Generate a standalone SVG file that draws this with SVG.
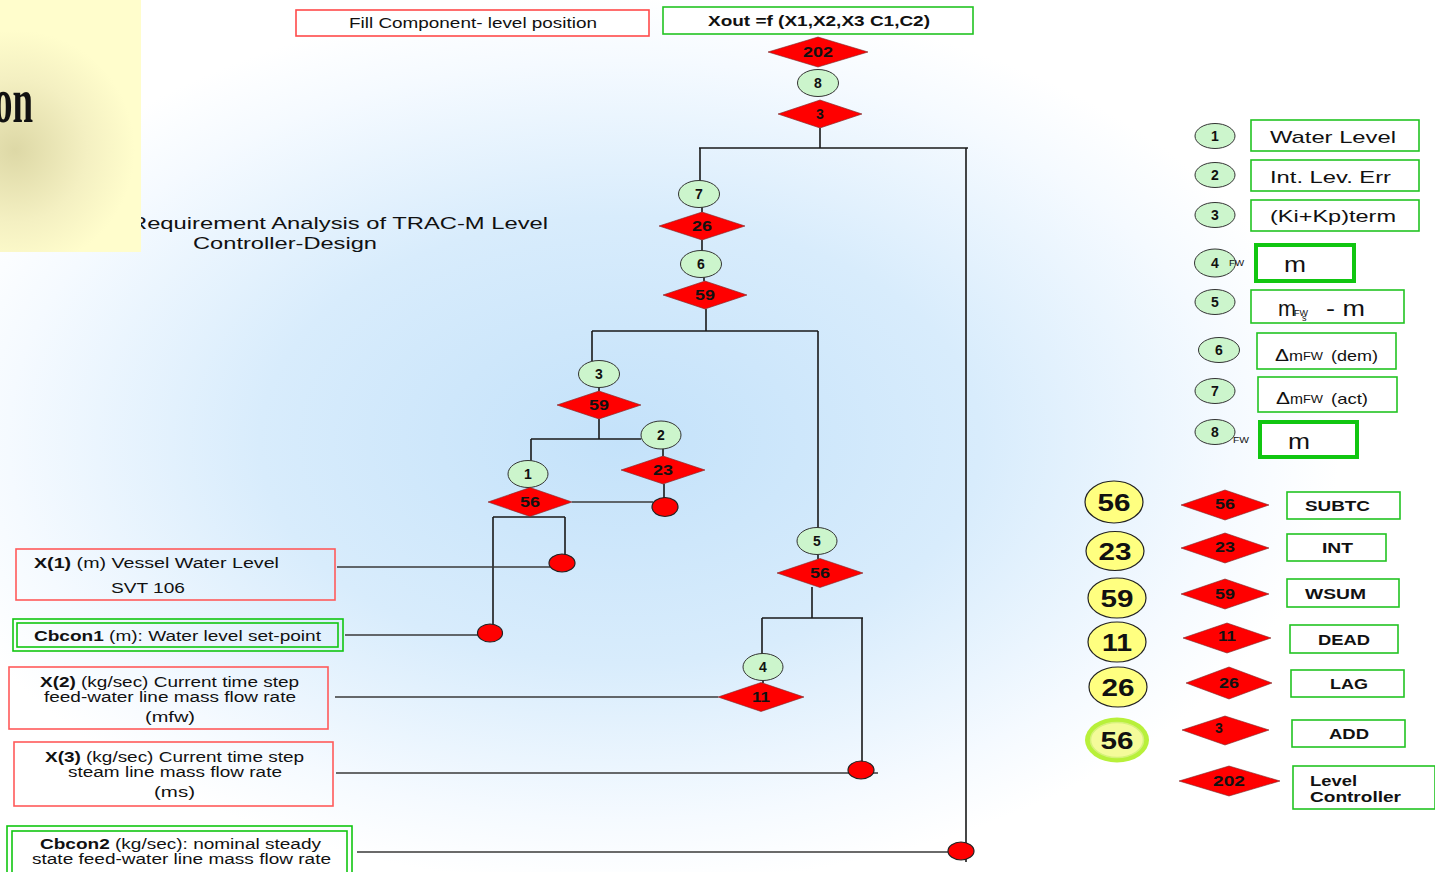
<svg xmlns="http://www.w3.org/2000/svg" width="1435" height="872" viewBox="0 0 1435 872">
  <defs>
    <radialGradient id="bg" gradientUnits="userSpaceOnUse" cx="620" cy="440" r="720" gradientTransform="translate(620,440) scale(1,0.62) translate(-620,-440)">
      <stop offset="0" stop-color="#c4e2fa"/>
      <stop offset="0.5" stop-color="#d8ecfc"/>
      <stop offset="0.85" stop-color="#f5faff"/>
      <stop offset="1" stop-color="#ffffff"/>
    </radialGradient>
    <radialGradient id="panel" gradientUnits="userSpaceOnUse" cx="15" cy="150" r="120">
      <stop offset="0" stop-color="#ddd8a6"/>
      <stop offset="0.6" stop-color="#f4f0c2"/>
      <stop offset="1" stop-color="#fffdcc"/>
    </radialGradient>
    <style>
      text { font-family: "Liberation Sans", Arial, sans-serif; fill: #111; }
      .conn { stroke: #1a1a1a; stroke-width: 1.6; fill: none; }
      .feed { stroke: #3a3a3a; stroke-width: 1.3; fill: none; }
      .circ { fill: #ccf5cc; stroke: #333; stroke-width: 1; }
      .dia { fill: #ff0000; stroke: #7a2a2a; stroke-width: 0.6; }
      .dot { fill: #ff0000; stroke: #222; stroke-width: 1.2; }
      .yel { fill: #ffff80; stroke: #222; stroke-width: 1.2; }
      .rbox { fill: none; stroke: #ff5a5a; stroke-width: 1.6; }
      .gbox { fill: #ffffff; stroke: #22c422; stroke-width: 1.6; }
      .gthick { fill: #ffffff; stroke: #11c611; stroke-width: 4; }
      .gdbl { fill: none; stroke: #11c611; stroke-width: 1.6; }
      .cn { font-weight: bold; font-size: 14px; text-anchor: middle; }
      .dn { font-weight: bold; font-size: 14px; text-anchor: middle; }
      .yn { font-weight: bold; font-size: 24px; text-anchor: middle; }
      .in { font-size: 14px; }
      .b { font-weight: bold; }
      .leg { font-size: 17px; }
      .op { font-weight: bold; font-size: 14px; }
      .sub { font-size: 9px; }
      .mm { font-size: 22px; }
    </style>
  </defs>

  <!-- backdrop -->
  <rect x="0" y="0" width="1435" height="872" fill="url(#bg)"/>

  <!-- title -->
  <g id="title">
    <text x="130" y="229" font-size="17" textLength="418" lengthAdjust="spacingAndGlyphs">Requirement Analysis of TRAC-M Level</text>
    <text x="193" y="249" font-size="17" textLength="184" lengthAdjust="spacingAndGlyphs">Controller-Design</text>
  </g>

  <!-- side panel -->
  <g id="side-panel">
    <rect x="0" y="0" width="141" height="252" fill="url(#panel)"/>
    <text x="-6" y="122" font-weight="bold" font-size="64" textLength="39" lengthAdjust="spacingAndGlyphs" style="font-family:'Liberation Serif','Times New Roman',serif">on</text>
  </g>

  <!-- header boxes -->
  <g id="fill-component">
    <rect x="296" y="10" width="353" height="26" fill="#ffffff" stroke="#ff4a4a" stroke-width="1.6"/>
    <text x="349" y="28" class="in" textLength="248" lengthAdjust="spacingAndGlyphs">Fill Component- level position</text>
  </g>
  <g id="xout">
    <rect x="663" y="7" width="310" height="27" fill="#ffffff" stroke="#22c422" stroke-width="1.6"/>
    <text x="708" y="26" class="in b" textLength="222" lengthAdjust="spacingAndGlyphs">Xout =f (X1,X2,X3 C1,C2)</text>
  </g>

  <!-- connectors -->
  <g id="connectors">
    <path class="conn" d="M820,128 V148 M699,148 H968 M700,148 V181 M966,148 V862"/>
    <path class="conn" d="M702,207 V212 M702,240 V251 M704,277 V281 M706,309 V331"/>
    <path class="conn" d="M592,331 H818 M592,331 V361 M818,331 V528"/>
    <path class="conn" d="M599,387 V391 M599,419 V439 M531,439 H641 M531,439 V461 M663,449 V456 M664,484 V498"/>
    <path class="feed" d="M572,502 H653"/>
    <path class="conn" d="M493,517 H565 M493,517 V624 M565,517 V555"/>
    <path class="conn" d="M818,555 V559 M812,587 V618 M762,618 H863 M762,618 V654 M862,618 V762 M763,681 V683"/>
    <path class="feed" d="M337,567 H550 M345,635 H478 M335,697 H718 M336,773 H878 M357,852 H948"/>
  </g>

  <!-- block chain -->
  <g id="d202"><polygon class="dia" points="768,52 818,37 868,52 818,67"/><text class="dn" x="818" y="57" font-size="15" textLength="30" lengthAdjust="spacingAndGlyphs">202</text></g>
  <g id="c8"><ellipse class="circ" cx="818" cy="83" rx="20.5" ry="13.5"/><text class="cn" x="818" y="88">8</text></g>
  <g id="d3"><polygon class="dia" points="778,114 820,100 862,114 820,128"/><text class="dn" x="820" y="119">3</text></g>

  <g id="c7"><ellipse class="circ" cx="699" cy="194" rx="20.5" ry="13.5"/><text class="cn" x="699" y="199">7</text></g>
  <g id="d26"><polygon class="dia" points="659,226 702,212 745,226 702,240"/><text class="dn" x="702" y="231" textLength="20" lengthAdjust="spacingAndGlyphs">26</text></g>
  <g id="c6"><ellipse class="circ" cx="701" cy="264" rx="20.5" ry="13.5"/><text class="cn" x="701" y="269">6</text></g>
  <g id="d59a"><polygon class="dia" points="663,295 705,281 747,295 705,309"/><text class="dn" x="705" y="300" textLength="20" lengthAdjust="spacingAndGlyphs">59</text></g>

  <g id="c3"><ellipse class="circ" cx="599" cy="374" rx="20.5" ry="13.5"/><text class="cn" x="599" y="379">3</text></g>
  <g id="d59b"><polygon class="dia" points="557,405 599,391 641,405 599,419"/><text class="dn" x="599" y="410" textLength="20" lengthAdjust="spacingAndGlyphs">59</text></g>
  <g id="c2"><ellipse class="circ" cx="661" cy="435" rx="20" ry="14"/><text class="cn" x="661" y="440">2</text></g>
  <g id="d23"><polygon class="dia" points="621,470 663,456 705,470 663,484"/><text class="dn" x="663" y="475" textLength="20" lengthAdjust="spacingAndGlyphs">23</text></g>
  <g id="dot-23"><ellipse class="dot" cx="665" cy="507" rx="13" ry="9.5"/></g>
  <g id="c1"><ellipse class="circ" cx="528" cy="474" rx="20" ry="13.5"/><text class="cn" x="528" y="479">1</text></g>
  <g id="d56a"><polygon class="dia" points="488,502 530,487.5 572,502 530,516.5"/><text class="dn" x="530" y="507" textLength="20" lengthAdjust="spacingAndGlyphs">56</text></g>
  <g id="dot-x1"><ellipse class="dot" cx="562" cy="563" rx="13" ry="9"/></g>
  <g id="dot-cb1"><ellipse class="dot" cx="490" cy="633" rx="12.5" ry="9"/></g>

  <g id="c5"><ellipse class="circ" cx="817" cy="541" rx="20" ry="13.5"/><text class="cn" x="817" y="546">5</text></g>
  <g id="d56b"><polygon class="dia" points="777,573 820,558.5 863,573 820,587.5"/><text class="dn" x="820" y="578" textLength="20" lengthAdjust="spacingAndGlyphs">56</text></g>
  <g id="c4"><ellipse class="circ" cx="763" cy="667" rx="20" ry="13.5"/><text class="cn" x="763" y="672">4</text></g>
  <g id="d11"><polygon class="dia" points="718,697 761,682.5 804,697 761,711.5"/><text class="dn" x="761" y="702" textLength="18" lengthAdjust="spacingAndGlyphs">11</text></g>
  <g id="dot-x3"><ellipse class="dot" cx="861" cy="770" rx="13" ry="9"/></g>
  <g id="dot-cb2"><ellipse class="dot" cx="961" cy="851" rx="13" ry="9"/></g>

  <!-- inputs -->
  <g id="in-x1">
    <rect class="rbox" x="16" y="549" width="319" height="51"/>
    <text x="34" y="568" class="in" textLength="245" lengthAdjust="spacingAndGlyphs"><tspan class="b">X(1)</tspan> (m) Vessel  Water Level</text>
    <text x="111" y="593" class="in" textLength="74" lengthAdjust="spacingAndGlyphs">SVT 106</text>
  </g>
  <g id="in-cbcon1">
    <rect class="gdbl" x="13" y="619" width="330" height="32"/>
    <rect class="gdbl" x="17" y="623" width="321" height="24"/>
    <text x="34" y="641" class="in" textLength="287" lengthAdjust="spacingAndGlyphs"><tspan class="b">Cbcon1</tspan> (m): Water level set-point</text>
  </g>
  <g id="in-x2">
    <rect class="rbox" x="9" y="667" width="319" height="62"/>
    <text x="40" y="687" class="in" textLength="259" lengthAdjust="spacingAndGlyphs"><tspan class="b">X(2)</tspan> (kg/sec) Current time step</text>
    <text x="44" y="702" class="in" textLength="252" lengthAdjust="spacingAndGlyphs">feed-water line mass flow rate</text>
    <text x="145" y="722" class="in" textLength="50" lengthAdjust="spacingAndGlyphs">(mfw)</text>
  </g>
  <g id="in-x3">
    <rect class="rbox" x="14" y="742" width="319" height="64"/>
    <text x="45" y="762" class="in" textLength="259" lengthAdjust="spacingAndGlyphs"><tspan class="b">X(3)</tspan> (kg/sec) Current time step</text>
    <text x="68" y="777" class="in" textLength="214" lengthAdjust="spacingAndGlyphs">steam line mass flow rate</text>
    <text x="154" y="797" class="in" textLength="41" lengthAdjust="spacingAndGlyphs">(ms)</text>
  </g>
  <g id="in-cbcon2">
    <rect class="gdbl" x="7" y="826" width="345" height="50"/>
    <rect class="gdbl" x="12" y="831" width="335" height="45"/>
    <text x="40" y="849" class="in" textLength="281" lengthAdjust="spacingAndGlyphs"><tspan class="b">Cbcon2</tspan> (kg/sec): nominal steady</text>
    <text x="32" y="864" class="in" textLength="299" lengthAdjust="spacingAndGlyphs">state feed-water line mass flow rate</text>
  </g>

  <!-- key: numbered signals -->
  <g id="key-1"><ellipse class="circ" cx="1215" cy="136" rx="20" ry="12.5"/><text class="cn" x="1215" y="141">1</text>
    <rect class="gbox" x="1251" y="120" width="168" height="31"/><text x="1270" y="143" class="leg" textLength="126" lengthAdjust="spacingAndGlyphs">Water Level</text></g>
  <g id="key-2"><ellipse class="circ" cx="1215" cy="175" rx="20" ry="12.5"/><text class="cn" x="1215" y="180">2</text>
    <rect class="gbox" x="1251" y="160" width="168" height="31"/><text x="1270" y="183" class="leg" textLength="121" lengthAdjust="spacingAndGlyphs">Int. Lev. Err</text></g>
  <g id="key-3"><ellipse class="circ" cx="1215" cy="215" rx="20" ry="12.5"/><text class="cn" x="1215" y="220">3</text>
    <rect class="gbox" x="1251" y="200" width="168" height="31"/><text x="1270" y="222" class="leg" textLength="126" lengthAdjust="spacingAndGlyphs">(Ki+Kp)term</text></g>
  <g id="key-4"><ellipse class="circ" cx="1215" cy="263" rx="20.5" ry="14"/><text class="cn" x="1215" y="268">4</text>
    <text x="1229" y="266" class="sub" textLength="15" lengthAdjust="spacingAndGlyphs">FW</text>
    <rect class="gthick" x="1256" y="245" width="98" height="36"/><text x="1284" y="272" class="mm" textLength="22" lengthAdjust="spacingAndGlyphs">m</text></g>
  <g id="key-5"><ellipse class="circ" cx="1215" cy="302" rx="20" ry="12.5"/><text class="cn" x="1215" y="307">5</text>
    <rect class="gbox" x="1251" y="290" width="153" height="33"/>
    <text x="1278" y="316" class="mm" textLength="18" lengthAdjust="spacingAndGlyphs">m</text><text x="1294" y="316" class="sub" textLength="14" lengthAdjust="spacingAndGlyphs">FW</text><text x="1302" y="321" class="sub">s</text>
    <text x="1326" y="316" class="mm" textLength="39" lengthAdjust="spacingAndGlyphs">- m</text></g>
  <g id="key-6"><ellipse class="circ" cx="1219" cy="350" rx="20.5" ry="12.5"/><text class="cn" x="1219" y="355">6</text>
    <rect class="gbox" x="1257" y="333" width="139" height="36"/>
    <text x="1275" y="361" font-size="17" textLength="14" lengthAdjust="spacingAndGlyphs">Δ</text><text x="1289" y="361" font-size="14" textLength="14" lengthAdjust="spacingAndGlyphs">m</text><text x="1303" y="360" font-size="10" textLength="20" lengthAdjust="spacingAndGlyphs">FW</text><text x="1331" y="361" font-size="15" textLength="47" lengthAdjust="spacingAndGlyphs">(dem)</text></g>
  <g id="key-7"><ellipse class="circ" cx="1215" cy="391" rx="20" ry="12.5"/><text class="cn" x="1215" y="396">7</text>
    <rect class="gbox" x="1258" y="377" width="139" height="35"/>
    <text x="1276" y="404" font-size="17" textLength="14" lengthAdjust="spacingAndGlyphs">Δ</text><text x="1290" y="404" font-size="14" textLength="13" lengthAdjust="spacingAndGlyphs">m</text><text x="1303" y="403" font-size="10" textLength="20" lengthAdjust="spacingAndGlyphs">FW</text><text x="1331" y="404" font-size="15" textLength="37" lengthAdjust="spacingAndGlyphs">(act)</text></g>
  <g id="key-8"><ellipse class="circ" cx="1215" cy="432" rx="20" ry="12.5"/><text class="cn" x="1215" y="437">8</text>
    <text x="1233" y="443" class="sub" textLength="16" lengthAdjust="spacingAndGlyphs">FW</text>
    <rect class="gthick" x="1260" y="422" width="97" height="35"/><text x="1288" y="449" class="mm" textLength="22" lengthAdjust="spacingAndGlyphs">m</text></g>

  <!-- key: block types -->
  <g id="blk-56"><ellipse class="yel" cx="1114" cy="502" rx="29" ry="21"/><text class="yn" x="1114" y="511" textLength="33" lengthAdjust="spacingAndGlyphs">56</text></g>
  <g id="blk-23"><ellipse class="yel" cx="1115" cy="551" rx="29" ry="19.5"/><text class="yn" x="1115" y="560" textLength="33" lengthAdjust="spacingAndGlyphs">23</text></g>
  <g id="blk-59"><ellipse class="yel" cx="1117" cy="598" rx="29" ry="20"/><text class="yn" x="1117" y="607" textLength="33" lengthAdjust="spacingAndGlyphs">59</text></g>
  <g id="blk-11"><ellipse class="yel" cx="1117" cy="642" rx="29" ry="20"/><text class="yn" x="1117" y="651" textLength="30" lengthAdjust="spacingAndGlyphs">11</text></g>
  <g id="blk-26"><ellipse class="yel" cx="1118" cy="687" rx="29" ry="20"/><text class="yn" x="1118" y="696" textLength="33" lengthAdjust="spacingAndGlyphs">26</text></g>
  <g id="blk-56-ref">
    <ellipse cx="1117" cy="740" rx="32" ry="22.5" fill="#b8f03a"/>
    <ellipse cx="1117" cy="740" rx="26.5" ry="17.5" fill="#f4fb9a" stroke="#d6f27a" stroke-width="1.5"/>
    <text class="yn" x="1117" y="749" textLength="33" lengthAdjust="spacingAndGlyphs">56</text>
  </g>

  <g id="op-subtc"><polygon class="dia" points="1181,505 1225,490 1269,505 1225,520"/><text class="dn" x="1225" y="509" textLength="20" lengthAdjust="spacingAndGlyphs">56</text>
    <rect class="gbox" x="1287" y="492" width="113" height="27"/><text x="1305" y="511" class="op" textLength="65" lengthAdjust="spacingAndGlyphs">SUBTC</text></g>
  <g id="op-int"><polygon class="dia" points="1181,548 1225,533 1269,548 1225,563"/><text class="dn" x="1225" y="552" textLength="20" lengthAdjust="spacingAndGlyphs">23</text>
    <rect class="gbox" x="1287" y="534" width="99" height="27"/><text x="1322" y="553" class="op" textLength="31" lengthAdjust="spacingAndGlyphs">INT</text></g>
  <g id="op-wsum"><polygon class="dia" points="1181,594 1225,579 1269,594 1225,609"/><text class="dn" x="1225" y="599" textLength="20" lengthAdjust="spacingAndGlyphs">59</text>
    <rect class="gbox" x="1287" y="579" width="112" height="28"/><text x="1305" y="599" class="op" textLength="61" lengthAdjust="spacingAndGlyphs">WSUM</text></g>
  <g id="op-dead"><polygon class="dia" points="1183,638 1227,623 1271,638 1227,653"/><text class="dn" x="1227" y="641" textLength="18" lengthAdjust="spacingAndGlyphs">11</text>
    <rect class="gbox" x="1290" y="625" width="108" height="28"/><text x="1318" y="645" class="op" textLength="52" lengthAdjust="spacingAndGlyphs">DEAD</text></g>
  <g id="op-lag"><polygon class="dia" points="1186,683 1229,667 1272,683 1229,699"/><text class="dn" x="1229" y="688" textLength="20" lengthAdjust="spacingAndGlyphs">26</text>
    <rect class="gbox" x="1291" y="670" width="113" height="27"/><text x="1330" y="689" class="op" textLength="38" lengthAdjust="spacingAndGlyphs">LAG</text></g>
  <g id="op-add"><polygon class="dia" points="1182,730 1225,716 1269,730 1225,745"/><text class="dn" x="1219" y="733">3</text>
    <rect class="gbox" x="1292" y="720" width="113" height="27"/><text x="1329" y="739" class="op" textLength="40" lengthAdjust="spacingAndGlyphs">ADD</text></g>
  <g id="op-level"><polygon class="dia" points="1179,781 1229,766 1280,781 1229,796"/><text class="dn" x="1229" y="786" font-size="15" textLength="32" lengthAdjust="spacingAndGlyphs">202</text>
    <rect class="gbox" x="1293" y="766" width="142" height="43"/>
    <text x="1310" y="786" class="op" textLength="47" lengthAdjust="spacingAndGlyphs">Level</text>
    <text x="1310" y="802" class="op" textLength="91" lengthAdjust="spacingAndGlyphs">Controller</text></g>
</svg>
